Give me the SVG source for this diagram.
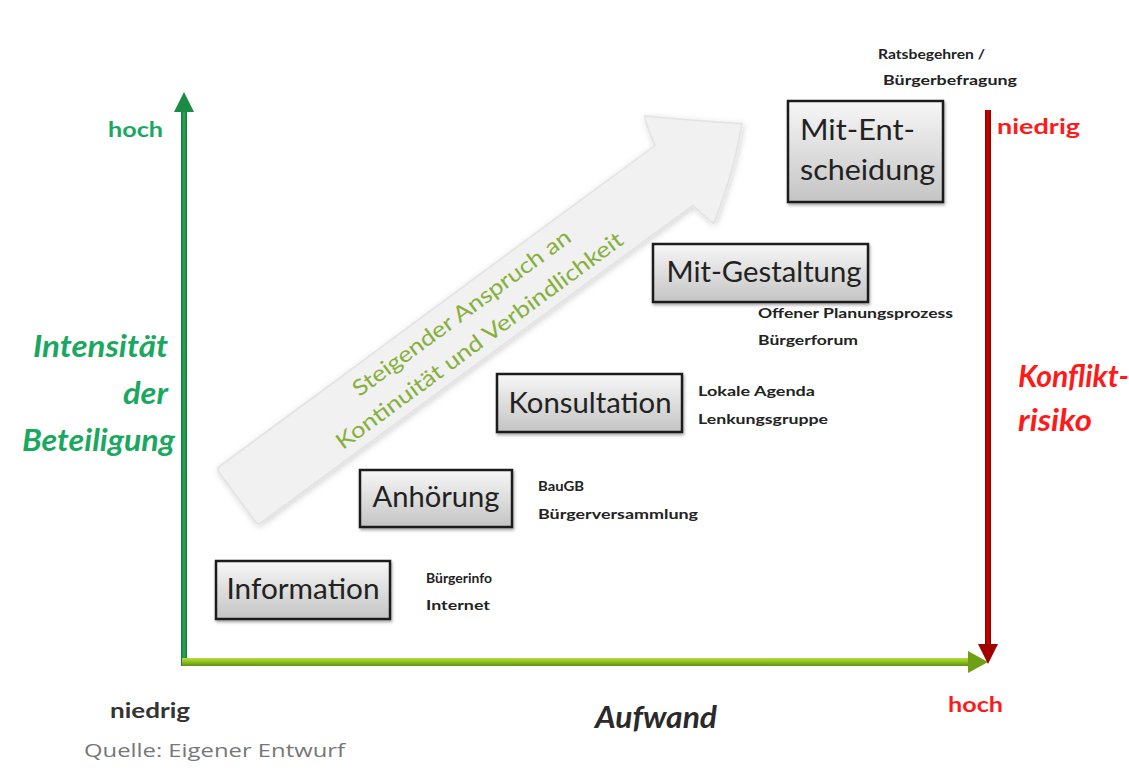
<svg xmlns="http://www.w3.org/2000/svg" width="1129" height="774" viewBox="0 0 1129 774">
  <style>
    .box { fill: url(#boxFill); stroke: #1c1c1c; stroke-width: 2.5; filter: url(#shadow); }
    .boxText { font-family: Lato, "Open Sans", sans-serif; font-size: 28px; fill: #222; }
    .small { font-family: Lato, "Open Sans", sans-serif; font-size: 14px; font-weight: bold; fill: #222; }
    .axisLabel { font-family: Lato, "Open Sans", sans-serif; font-weight: bold; font-size: 21px; }
    .title { font-family: Lato, "Open Sans", sans-serif; font-weight: bold; font-style: italic; font-size: 30px; }
    .diag { font-family: Lato, "Open Sans", sans-serif; font-size: 22px; fill: #86b03c; }
  </style>
  <defs>
    <linearGradient id="boxFill" x1="0" y1="0" x2="0" y2="1">
      <stop offset="0" stop-color="#f7f7f7"/>
      <stop offset="1" stop-color="#c4c4c4"/>
    </linearGradient>
    <linearGradient id="greenV" x1="0" y1="0" x2="1" y2="0">
      <stop offset="0" stop-color="#14783a"/>
      <stop offset="0.5" stop-color="#2aa858"/>
      <stop offset="1" stop-color="#14783a"/>
    </linearGradient>
    <linearGradient id="limeH" x1="0" y1="0" x2="0" y2="1">
      <stop offset="0" stop-color="#b6dc3c"/>
      <stop offset="0.5" stop-color="#8cbf1c"/>
      <stop offset="1" stop-color="#5f8f10"/>
    </linearGradient>
    <linearGradient id="redV" x1="0" y1="0" x2="1" y2="0">
      <stop offset="0" stop-color="#8a0000"/>
      <stop offset="0.5" stop-color="#d40000"/>
      <stop offset="1" stop-color="#8a0000"/>
    </linearGradient>
    <filter id="shadow" x="-10%" y="-10%" width="130%" height="140%">
      <feDropShadow dx="1" dy="2" stdDeviation="1.5" flood-color="#000" flood-opacity="0.35"/>
    </filter>
    <filter id="softShadow" x="-10%" y="-30%" width="120%" height="160%">
      <feDropShadow dx="0" dy="2" stdDeviation="3" flood-color="#000" flood-opacity="0.18"/>
    </filter>
  </defs>

  <rect width="1129" height="774" fill="#fff"/>

  <!-- large diagonal arrow -->
  <g id="trend" transform="translate(237,497) rotate(-36.3)">
    <path d="M4,-35 L545,-36 Q548,-52 554,-66 Q592,-32 628,-2 Q596,30 546,62 Q542,48 540,35 L4,35 Q0,35 0,31 L0,-31 Q0,-35 4,-35 Z" fill="#f1f1f1" stroke="#e0e0e0" stroke-width="1.5" stroke-linejoin="round" filter="url(#softShadow)"/>
    <text class="diag" x="290" y="-8" text-anchor="middle" textLength="265" lengthAdjust="spacingAndGlyphs">Steigender Anspruch an</text>
    <text class="diag" x="288" y="25" text-anchor="middle" textLength="350" lengthAdjust="spacingAndGlyphs">Kontinuität und Verbindlichkeit</text>
  </g>

  <!-- axes -->
  <g id="connectors">
    <rect x="181" y="108" width="6" height="558" fill="url(#greenV)"/>
    <polygon points="184,92 194,112 174,112" fill="#1a8a44"/>
    <rect x="182" y="658" width="790" height="8" fill="url(#limeH)"/>
    <polygon points="988,662 968,651 968,673" fill="#6f9f14"/>
    <rect x="985" y="110" width="6" height="538" fill="url(#redV)"/>
    <polygon points="988,664 978,644 998,644" fill="#a00000"/>
  </g>

  <!-- axis labels -->
  <g id="axis-labels">
    <text class="axisLabel" x="108" y="137" fill="#1aa860" textLength="55" lengthAdjust="spacingAndGlyphs">hoch</text>
    <text class="axisLabel" x="997" y="134" fill="#ff1a1a" textLength="83" lengthAdjust="spacingAndGlyphs">niedrig</text>
    <text class="title" x="33" y="357" fill="#1aa860" textLength="135" lengthAdjust="spacingAndGlyphs">Intensität</text>
    <text class="title" x="123" y="404" fill="#1aa860" textLength="45" lengthAdjust="spacingAndGlyphs">der</text>
    <text class="title" x="22" y="451" fill="#1aa860" textLength="153" lengthAdjust="spacingAndGlyphs">Beteiligung</text>
    <text class="title" x="1018" y="387" fill="#ff1a1a" textLength="111" lengthAdjust="spacingAndGlyphs">Konflikt-</text>
    <text class="title" x="1018" y="431" fill="#ff1a1a" textLength="74" lengthAdjust="spacingAndGlyphs">risiko</text>
    <text class="axisLabel" x="110" y="718" fill="#333" textLength="80" lengthAdjust="spacingAndGlyphs">niedrig</text>
    <text class="title" x="656" y="728" fill="#2a2a2a" font-weight="normal" text-anchor="middle" textLength="122" lengthAdjust="spacingAndGlyphs">Aufwand</text>
    <text class="axisLabel" x="948" y="712" fill="#ff1a1a" textLength="55" lengthAdjust="spacingAndGlyphs">hoch</text>
    <text x="84" y="757" font-family="'Open Sans', Lato, sans-serif" font-size="19" fill="#777" textLength="261" lengthAdjust="spacingAndGlyphs">Quelle: Eigener Entwurf</text>
  </g>

  <!-- participation levels -->
  <g id="information">
    <rect class="box" x="216" y="561" width="174" height="58"/>
    <text class="boxText" x="303" y="599" text-anchor="middle" textLength="153" lengthAdjust="spacingAndGlyphs">Information</text>
    <text class="small" x="426" y="583" textLength="66" lengthAdjust="spacingAndGlyphs">Bürgerinfo</text>
    <text class="small" x="426" y="610" textLength="64" lengthAdjust="spacingAndGlyphs">Internet</text>
  </g>

  <g id="anhoerung">
    <rect class="box" x="360" y="470" width="152" height="57"/>
    <text class="boxText" x="436" y="507" text-anchor="middle" textLength="127" lengthAdjust="spacingAndGlyphs">Anhörung</text>
    <text class="small" x="538" y="491" textLength="46" lengthAdjust="spacingAndGlyphs">BauGB</text>
    <text class="small" x="538" y="519" textLength="160" lengthAdjust="spacingAndGlyphs">Bürgerversammlung</text>
  </g>

  <g id="konsultation">
    <rect class="box" x="497" y="374" width="185" height="58"/>
    <text class="boxText" x="590" y="413" text-anchor="middle" textLength="163" lengthAdjust="spacingAndGlyphs">Konsultation</text>
    <text class="small" x="698" y="396" textLength="117" lengthAdjust="spacingAndGlyphs">Lokale Agenda</text>
    <text class="small" x="698" y="424" textLength="130" lengthAdjust="spacingAndGlyphs">Lenkungsgruppe</text>
  </g>

  <g id="mit-gestaltung">
    <rect class="box" x="653" y="244" width="215" height="58"/>
    <text class="boxText" x="764" y="282" text-anchor="middle" textLength="195" lengthAdjust="spacingAndGlyphs">Mit-Gestaltung</text>
    <text class="small" x="758" y="318" textLength="195" lengthAdjust="spacingAndGlyphs">Offener  Planungsprozess</text>
    <text class="small" x="758" y="345" textLength="100" lengthAdjust="spacingAndGlyphs">Bürgerforum</text>
  </g>

  <g id="mit-entscheidung">
    <rect class="box" x="788" y="101" width="155" height="101"/>
    <text class="boxText" x="800" y="140" textLength="115" lengthAdjust="spacingAndGlyphs">Mit-Ent-</text>
    <text class="boxText" x="800" y="180" textLength="135" lengthAdjust="spacingAndGlyphs">scheidung</text>
    <text class="small" x="878" y="59" textLength="107" lengthAdjust="spacingAndGlyphs">Ratsbegehren /</text>
    <text class="small" x="883" y="85" textLength="134" lengthAdjust="spacingAndGlyphs">Bürgerbefragung</text>
  </g>
</svg>
